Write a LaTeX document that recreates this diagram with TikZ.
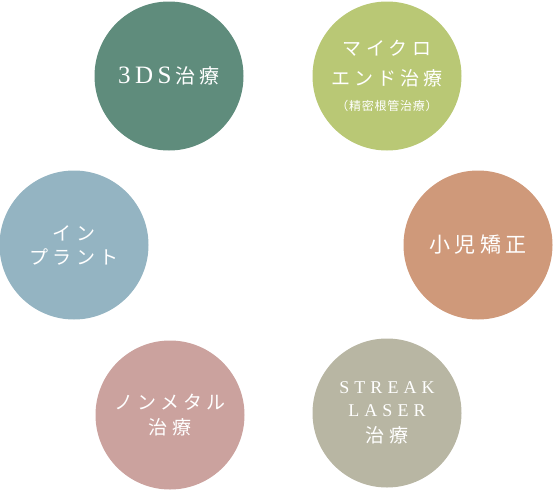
\documentclass[tikz,border=0pt]{standalone}
\usepackage{fontspec}
\newfontfamily\jp[LetterSpace=22]{Noto Sans CJK JP}
\newfontfamily\jps[LetterSpace=6]{Noto Sans CJK JP}
\newfontfamily\lat[LetterSpace=28]{Liberation Serif}
\newfontfamily\latb[LetterSpace=18]{Liberation Serif}
\definecolor{cA}{HTML}{5F8C7C}
\definecolor{cB}{HTML}{B9C875}
\definecolor{cC}{HTML}{CF997A}
\definecolor{cD}{HTML}{94B4C2}
\definecolor{cE}{HTML}{CBA29E}
\definecolor{cF}{HTML}{B8B6A3}
\tikzset{
  disc/.style={circle, minimum size=149pt, inner sep=0pt, text=white, align=center},
  jpfont/.style={font=\jp\fontsize{19}{25}\selectfont},
  latfont/.style={font=\lat\fontsize{18}{24}\selectfont}
}
\begin{document}
\begin{tikzpicture}[x=1pt,y=-1pt]
\useasboundingbox (0,0) rectangle (554,490);
\node[disc, fill=cA, jpfont] (a) at (169,76)
  {{\latb\fontsize{25}{28}\selectfont 3DS}\kern4pt\fontsize{20}{25}\selectfont 治療};
\node[disc, fill=cB, jpfont] (b) at (387,76)
  {マイクロ\\[5pt]エンド治療\\{\jps\fontsize{12}{14}\selectfont （精密根管治療）}};
\node[disc, fill=cC, jpfont] (c) at (478,245)
  {\fontsize{21}{25}\selectfont 小児矯正};
\node[disc, fill=cD, jpfont] (d) at (74,245)
  {イン\\[-1pt]プラント};
\node[disc, fill=cE, jpfont] (e) at (170,415)
  {ノンメタル\\治療};
\node[disc, fill=cF, latfont] (f) at (387,413)
  {STREAK\\[-1pt]LASER\\[2.5pt]{\jp\fontsize{19}{25}\selectfont 治療}};
\end{tikzpicture}
\end{document}
